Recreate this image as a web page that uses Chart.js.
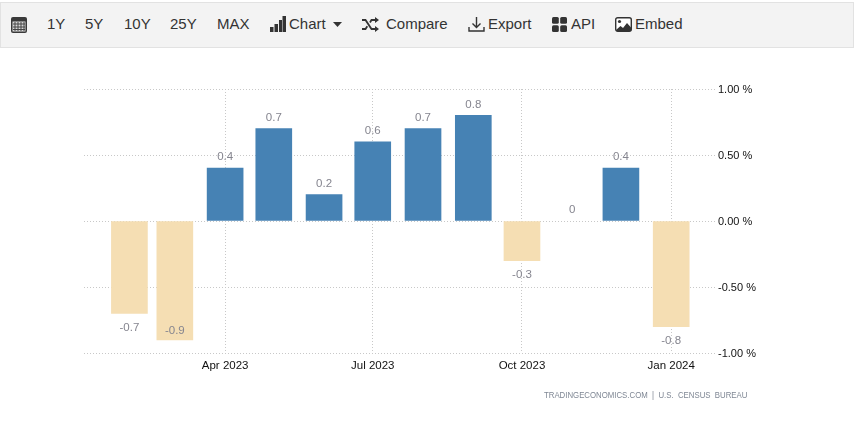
<!DOCTYPE html>
<html>
<head>
<meta charset="utf-8">
<title>Chart</title>
<script src="https://cdn.jsdelivr.net/npm/chart.js@4/dist/chart.umd.min.js"></script>
<style>
    html, body { margin: 0; padding: 0; background: #fff; overflow: hidden; }
    body { width: 855px; height: 426px; position: relative; font-family: "Liberation Sans", Arial, sans-serif; }
    #toolbar { position: absolute; left: 0; top: 2px; width: 852px; height: 44px; background: #f3f3f3; border: 1px solid #e2e2e2; }
    #toolbar span { position: absolute; top: 12px; font-size: 15px; line-height: 18px; color: #333; white-space: nowrap; }
    #toolbar svg { position: absolute; }
    #source { position: absolute; left: 544px; top: 390px; font-size: 9px; line-height: 10px; color: #7f8794; white-space: pre; transform: scaleX(0.868); transform-origin: left top; }
    canvas { position: absolute; left: 0; top: 0; }
</style>
</head>
<body>
<canvas id="chart" width="855" height="426"></canvas>

<div id="toolbar">
    <svg style="left:9px;top:13px" width="18" height="18" viewBox="0 0 18 18">
        <rect x="1" y="1" width="16" height="16" rx="2" fill="#3a3a3a"/>
        <rect x="2.5" y="5.5" width="13" height="10" fill="#d8d8d8"/>
        <path d="M5 6v9M8 6v9M11 6v9M14 6v9M3 8h12M3 11h12M3 13.5h12" stroke="#444" stroke-width="1"/>
    </svg>
    <span style="left:46px">1Y</span>
    <span style="left:84px">5Y</span>
    <span style="left:123px">10Y</span>
    <span style="left:169px">25Y</span>
    <span style="left:216px">MAX</span>
    <svg style="left:269px;top:13px" width="16" height="16" viewBox="0 0 16 16" fill="#333">
        <rect x="0" y="11" width="3.5" height="5"/><rect x="4.5" y="8" width="3.5" height="8"/>
        <rect x="9" y="4" width="3" height="12" /><rect x="12.5" y="0" width="3.5" height="16"/>
    </svg>
    <span style="left:288px">Chart</span>
    <svg style="left:332px;top:19px" width="9" height="5" viewBox="0 0 9 5"><path d="M0 0h9L4.5 5z" fill="#333"/></svg>
    <svg style="left:361px;top:14px" width="17" height="15" viewBox="0 0 17 15" fill="none" stroke="#333" stroke-width="1.8">
        <path d="M0 3h3.5l6 9H14M0 12h3.5l1.8-2.7M8 5.5L9.5 3H14"/>
        <path d="M13 0l4 3-4 3zM13 9l4 3-4 3z" fill="#333" stroke="none"/>
    </svg>
    <span style="left:385px">Compare</span>
    <svg style="left:467px;top:13px" width="17" height="17" viewBox="0 0 17 17" fill="none" stroke="#333" stroke-width="1.4">
        <path d="M8.5 1v10M4.5 7.5l4 4 4-4M1 11v4h15v-4"/>
    </svg>
    <span style="left:487px">Export</span>
    <svg style="left:551px;top:14px" width="15" height="15" viewBox="0 0 15 15" fill="#333">
        <rect x="0" y="0" width="6.8" height="6.8" rx="1.5"/><rect x="8.2" y="0" width="6.8" height="6.8" rx="1.5"/>
        <rect x="0" y="8.2" width="6.8" height="6.8" rx="1.5"/><rect x="8.2" y="8.2" width="6.8" height="6.8" rx="1.5"/>
    </svg>
    <span style="left:570px">API</span>
    <svg style="left:614px;top:14px" width="17" height="15" viewBox="0 0 17 15">
        <rect x="0.7" y="0.7" width="15.6" height="13.6" rx="2" fill="#fff" stroke="#333" stroke-width="1.4"/>
        <circle cx="4.5" cy="4.5" r="1.6" fill="#333"/>
        <path d="M1 13l4.5-4 2.5 2 4-5 4 4.5V14H1z" fill="#333"/>
    </svg>
    <span style="left:634px">Embed</span>
</div>

<div id="source">TRADINGECONOMICS.COM  |  U.S.  CENSUS  BUREAU</div>

<script>
// Chart data
const months = ['2023-02-01', '2023-03-01', '2023-04-01', '2023-05-01', '2023-06-01', '2023-07-01',
    '2023-08-01', '2023-09-01', '2023-10-01', '2023-11-01', '2023-12-01', '2024-01-01'];
const values = [-0.7, -0.9, 0.4, 0.7, 0.2, 0.6, 0.7, 0.8, -0.3, 0, 0.4, -0.8];
const xTickDates = ['2023-04-01', '2023-07-01', '2023-10-01', '2024-01-01'];
const xTickLabels = ['Apr 2023', 'Jul 2023', 'Oct 2023', 'Jan 2024'];
const yTicks = [-1, -0.5, 0, 0.5, 1];

// Color palette
const upColor = '#4682b4';
const downColor = '#f5deb3';
const gridColor = '#c8c8c8';
const tickColor = '#111';
const labelColor = '#85858f';

const toTime = s => Date.parse(s);

function barColor(v) {
    if (v === 0) return 'transparent'; // a zero month shows only its label
    return v < 0 ? downColor : upColor;
}

// Writes the value over or under each bar
const barLabels = {
    id: 'barLabels',
    afterDatasetsDraw(chart) {
        const { ctx, chartArea } = chart;
        ctx.save();
        ctx.font = '11.5px "Liberation Sans", Arial, sans-serif';
        ctx.fillStyle = labelColor;
        ctx.textAlign = 'center';
        ctx.textBaseline = 'middle';
        chart.getDatasetMeta(0).data.forEach((bar, i) => {
            let y = values[i] < 0 ? bar.y + 14 : bar.y - 11;
            // no room under the bar, so it goes inside
            if (values[i] < 0 && y + 6 > chartArea.bottom) y = bar.y - 9;
            ctx.fillText(String(values[i]), bar.x, y);
        });
        ctx.restore();
    }
};

new Chart(document.getElementById('chart'), {
    type: 'bar',
    data: {
        datasets: [{
            data: months.map((m, i) => ({ x: toTime(m), y: values[i] })),
            backgroundColor: values.map(barColor),
            barThickness: 36,
            borderWidth: 0
        }]
    },
    options: {
        responsive: false,
        animation: false,
        layout: { padding: { left: 84, top: 89, right: 0, bottom: 0 } },
        plugins: { legend: { display: false }, tooltip: { enabled: false } },
        scales: {
            x: {
                type: 'linear',
                offset: false,
                min: toTime('2023-01-04'),
                max: toTime('2024-01-28'),
                afterBuildTicks: axis => { axis.ticks = xTickDates.map(d => ({ value: toTime(d) })); },
                afterFit: axis => { axis.height = 73; },
                grid: { offset: false, color: gridColor, drawTicks: false },
                border: { display: false, dash: [1, 2] },
                ticks: {
                    color: tickColor,
                    font: { family: '"Liberation Sans", Arial, sans-serif', size: 11.5 },
                    padding: 6,
                    maxRotation: 0,
                    autoSkip: false,
                    callback: (v, i) => xTickLabels[i]
                }
            },
            y: {
                position: 'right',
                min: -1,
                max: 1,
                afterBuildTicks: axis => { axis.ticks = yTicks.map(v => ({ value: v })); },
                afterFit: axis => { axis.width = 140; },
                grid: { color: gridColor, drawTicks: false },
                border: { display: false, dash: [1, 2] },
                ticks: {
                    color: tickColor,
                    font: { family: '"Liberation Sans", Arial, sans-serif', size: 11 },
                    padding: 3,
                    labelOffset: 1,
                    callback: v => v.toFixed(2) + ' %'
                }
            }
        }
    },
    plugins: [barLabels]
});
</script>
</body>
</html>
